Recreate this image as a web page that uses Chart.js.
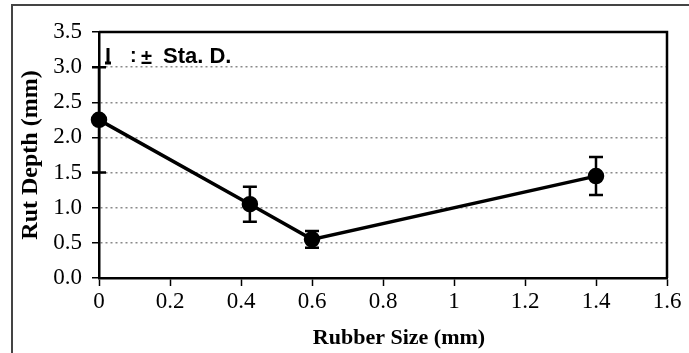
<!DOCTYPE html>
<html>
<head>
<meta charset="utf-8">
<script src="https://cdn.jsdelivr.net/npm/chart.js@4"></script>
<style>
  html, body { margin: 0; padding: 0; background: #fff; }
  #wrap { position: relative; width: 689px; height: 353px; }
  #frame { position: absolute; left: 11px; top: 4px; right: -4px; bottom: -4px;
           border-left: 2px solid #444; border-top: 2px solid #444; }
  canvas { position: absolute; left: 0; top: 0; }
</style>
</head>
<body>
<div id="wrap">
  <div id="frame"></div>
  <canvas id="rutChart" width="689" height="353"></canvas>
</div>
<script>
// rubber size (mm) vs rut depth (mm), with +/- standard deviation
const rubberSize = [0, 0.425, 0.6, 1.4];
const rutDepth = [2.25, 1.05, 0.55, 1.45];
const stdDev = [0.75, 0.25, 0.12, 0.27];
const xTickLabels = ['0', '0.2', '0.4', '0.6', '0.8', '1', '1.2', '1.4', '1.6'];
const yTickLabels = ['0.0', '0.5', '1.0', '1.5', '2.0', '2.5', '3.0', '3.5'];
const xTitle = 'Rubber Size (mm)';

const serif = '"Liberation Serif", "Times New Roman", serif';

// error bars + plot frame + little legend + x title
const errorBars = {
  id: 'errorBars',
  afterDatasetsDraw(chart) {
    const ctx = chart.ctx;
    const xs = chart.scales.x, ys = chart.scales.y;
    ctx.save();
    ctx.strokeStyle = '#000';
    ctx.lineWidth = 2.5;
    rubberSize.forEach((r, i) => {
      const x = xs.getPixelForValue(r);
      const top = ys.getPixelForValue(rutDepth[i] + stdDev[i]);
      const bot = ys.getPixelForValue(rutDepth[i] - stdDev[i]);
      ctx.beginPath();
      ctx.moveTo(x, top); ctx.lineTo(x, bot);
      ctx.moveTo(x - 7, top); ctx.lineTo(x + 7, top);
      ctx.moveTo(x - 7, bot); ctx.lineTo(x + 7, bot);
      ctx.stroke();
    });
    ctx.restore();
  },
  afterDraw(chart) {
    const ctx = chart.ctx;
    const a = chart.chartArea;
    ctx.save();
    ctx.strokeStyle = '#000';
    ctx.lineWidth = 2.5;
    ctx.beginPath();
    ctx.moveTo(a.left, a.top); ctx.lineTo(a.right, a.top); ctx.lineTo(a.right, a.bottom);
    ctx.stroke();
    // legend: error bar symbol, then text
    const lx = a.left + 9, ly = a.top + 16;
    ctx.lineWidth = 3;
    ctx.beginPath();
    ctx.moveTo(lx, ly); ctx.lineTo(lx, ly + 15);
    ctx.moveTo(lx - 3, ly + 15); ctx.lineTo(lx + 3, ly + 15);
    ctx.stroke();
    ctx.fillStyle = '#000';
    ctx.textBaseline = 'alphabetic';
    ctx.font = 'bold 20px "Liberation Sans", Arial, sans-serif';
    ctx.fillText(':', lx + 22, ly + 14);
    ctx.fillText('\u00b1', lx + 33, ly + 16);
    ctx.font = 'bold 22px "Liberation Sans", Arial, sans-serif';
    ctx.fillText('Sta. D.', lx + 55, ly + 15);
    // x axis title, sits a bit right of centre in the original
    ctx.font = 'bold 22px ' + serif;
    ctx.textAlign = 'center';
    ctx.fillText(xTitle, 399, 344);
    ctx.restore();
  }
};

const ctx = document.getElementById('rutChart').getContext('2d');
new Chart(ctx, {
  type: 'scatter',
  data: {
    datasets: [{
      data: rubberSize.map((r, i) => ({ x: r, y: rutDepth[i] })),
      showLine: true,
      clip: false,
      borderColor: '#000',
      borderWidth: 3.5,
      backgroundColor: '#000',
      pointRadius: 6.5,
      pointHoverRadius: 6.5
    }]
  },
  options: {
    responsive: false,
    animation: false,
    layout: { padding: { left: 12, top: 32, right: 22, bottom: 0 } },
    plugins: { legend: { display: false }, tooltip: { enabled: false } },
    scales: {
      x: {
        type: 'linear',
        min: 0, max: 1.6,
        afterFit(scale) { scale.height = 75; },
        ticks: {
          stepSize: 0.2,
          padding: 2,
          color: '#000',
          font: { family: serif, size: 23 },
          callback: (v, i) => xTickLabels[i]
        },
        grid: { drawOnChartArea: false, drawTicks: true, tickLength: 8, tickColor: '#000', tickWidth: 1.5 },
        border: { color: '#000', width: 2.5 }
      },
      y: {
        min: 0, max: 3.5,
        afterFit(scale) { scale.width = 87; },
        ticks: {
          stepSize: 0.5,
          padding: 10,
          color: '#000',
          font: { family: serif, size: 23 },
          callback: (v, i) => yTickLabels[i]
        },
        grid: {
          color: ctx => (ctx.tick && ctx.tick.value > 0 && ctx.tick.value < 3.5) ? '#8a8a8a' : 'rgba(0,0,0,0)',
          lineWidth: 1.5,
          tickLength: 7, tickColor: '#000', tickWidth: 1.5
        },
        border: { color: '#000', width: 2.5, dash: [2, 3] },
        title: {
          display: true, text: 'Rut Depth (mm)', color: '#000',
          font: { family: serif, size: 24, weight: 'bold' }, padding: { bottom: 2 }
        }
      }
    }
  },
  plugins: [errorBars]
});
</script>
</body>
</html>
